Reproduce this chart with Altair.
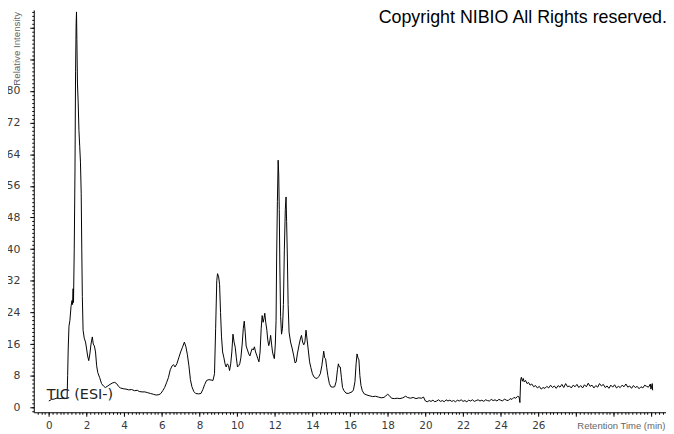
import altair as alt
import pandas as pd

# Retention time (min) and relative intensity
time_min = [
    0.0, 0.15, 0.3, 0.45, 0.55, 0.7, 0.85, 0.97,
    1.0, 1.03, 1.07, 1.12, 1.18, 1.23, 1.26, 1.29, 1.31, 1.35, 1.39, 1.42, 1.45, 1.47, 1.49,
    1.52, 1.56, 1.6, 1.64, 1.68, 1.72, 1.75, 1.78, 1.82, 1.88, 1.95, 2.0, 2.06, 2.12, 2.18,
    2.24, 2.31, 2.36, 2.42, 2.48, 2.54, 2.6, 2.7, 2.8, 2.9, 3.0, 3.1, 3.25, 3.4, 3.5, 3.6,
    3.7, 3.8, 3.95, 4.1, 4.25, 4.4, 4.55, 4.7, 4.8, 4.95, 5.1, 5.25, 5.4, 5.55, 5.7, 5.85,
    5.95, 6.05, 6.15, 6.25, 6.35, 6.45, 6.55, 6.62, 6.7, 6.8, 6.9, 7.0, 7.1, 7.2, 7.28, 7.36,
    7.44, 7.52, 7.6, 7.7, 7.8, 7.95, 8.08, 8.18, 8.28, 8.38, 8.5, 8.62, 8.72, 8.8, 8.86, 8.92,
    8.96, 9.02, 9.07, 9.12, 9.17, 9.23, 9.3, 9.36, 9.42, 9.48, 9.54, 9.6, 9.66, 9.72, 9.78,
    9.84, 9.9, 9.96, 10.02, 10.08, 10.14, 10.2, 10.27, 10.33, 10.38, 10.43, 10.48, 10.55,
    10.62, 10.68, 10.74, 10.8, 10.86, 10.92, 10.98, 11.04, 11.1, 11.16, 11.22, 11.28, 11.33,
    11.38, 11.43, 11.47, 11.52, 11.58, 11.63, 11.68, 11.73, 11.78, 11.83, 11.88, 11.94,
    11.98, 12.03, 12.07, 12.1, 12.14, 12.18, 12.21, 12.24, 12.27, 12.31, 12.36, 12.41,
    12.46, 12.51, 12.56, 12.6, 12.63, 12.67, 12.71, 12.76, 12.84, 12.92, 13.0, 13.08, 13.14,
    13.2, 13.28, 13.36, 13.42, 13.48, 13.54, 13.6, 13.66, 13.72, 13.78, 13.85, 13.92, 14.0,
    14.08, 14.16, 14.25, 14.34, 14.42, 14.5, 14.57, 14.6, 14.65, 14.7, 14.76, 14.82, 14.9,
    14.98, 15.08, 15.18, 15.26, 15.33, 15.38, 15.42, 15.48, 15.54, 15.6, 15.68, 15.78, 15.9,
    16.0, 16.1, 16.18, 16.26, 16.32, 16.37, 16.42, 16.47, 16.52, 16.58, 16.65, 16.75, 16.9,
    17.05, 17.2, 17.35, 17.5, 17.65, 17.8, 17.9, 18.0, 18.08, 18.2, 18.35, 18.5, 18.65, 18.8,
    18.95, 19.05, 19.2, 19.35, 19.5, 19.65, 19.8, 19.9, 20.0, 20.1, 20.2, 20.3, 20.4, 20.5,
    20.6, 20.7, 20.8, 20.9, 21.0, 21.1, 21.2, 21.3, 21.4, 21.5, 21.6, 21.7, 21.8, 21.9, 22.0,
    22.1, 22.2, 22.3, 22.4, 22.5, 22.6, 22.7, 22.8, 22.9, 23.0, 23.1, 23.2, 23.3, 23.4, 23.5,
    23.6, 23.7, 23.8, 23.9, 24.0, 24.1, 24.2, 24.3, 24.4, 24.5, 24.6, 24.7, 24.8, 24.9, 24.98,
    25.02, 25.06, 25.1, 25.15, 25.2, 25.25, 25.32, 25.4, 25.48, 25.56, 25.65, 25.75, 25.85,
    25.95, 26.05, 26.15, 26.25, 26.35, 26.45, 26.55, 26.65, 26.75, 26.85, 26.95, 27.05,
    27.15, 27.25, 27.35, 27.45, 27.55, 27.65, 27.75, 27.85, 27.95, 28.05, 28.15, 28.25,
    28.35, 28.45, 28.55, 28.65, 28.75, 28.85, 28.95, 29.05, 29.15, 29.25, 29.35, 29.45,
    29.55, 29.65, 29.75, 29.85, 29.95, 30.05, 30.15, 30.25, 30.35, 30.45, 30.55, 30.65,
    30.75, 30.85, 30.95, 31.05, 31.15, 31.25, 31.35, 31.45, 31.55, 31.65, 31.75, 31.85,
    31.95, 31.98, 32.05, 32.07,
]
intensity = [
    1.6, 2.0, 2.1, 2.4, 2.2, 2.3, 2.2, 2.3,
    8.0, 15.0, 20.5, 22.0, 25.5, 27.0, 26.0, 30.0, 26.5, 40.0, 60.0, 85.0, 97.0, 100.0, 93.0,
    82.0, 77.0, 70.0, 66.0, 62.0, 54.0, 40.0, 28.0, 19.5, 17.5, 16.5, 15.0, 13.0, 11.8, 13.5,
    16.0, 17.8, 16.0, 15.5, 14.0, 10.5, 8.8, 7.5, 6.0, 5.4, 5.0, 5.3, 5.8, 6.2, 6.3, 6.0,
    5.3, 4.9, 4.7, 4.6, 4.4, 4.5, 4.2, 4.3, 4.0, 3.9, 3.9, 3.7, 3.5, 3.3, 3.1, 3.2,
    3.5, 4.2, 5.0, 6.2, 7.5, 9.5, 10.5, 10.8, 10.2, 11.0, 12.5, 14.0, 15.2, 16.5, 15.3, 13.3,
    10.5, 7.0, 5.2, 4.0, 3.5, 3.4, 3.5, 4.5, 5.8, 6.8, 7.0, 6.9, 6.8, 8.5, 20.0, 32.0,
    33.8, 33.0, 31.0, 24.0, 18.0, 14.0, 12.5, 11.0, 10.2, 11.0, 10.6, 9.3, 11.0, 14.0, 18.5,
    16.5, 15.2, 12.5, 10.2, 10.5, 11.0, 12.5, 16.0, 20.0, 21.8, 19.0, 15.5, 14.5,
    13.5, 13.0, 14.0, 14.8, 14.5, 15.3, 14.0, 13.2, 12.3, 11.5, 14.0, 20.0, 23.2,
    21.5, 22.5, 23.8, 21.5, 19.5, 17.0, 15.6, 16.5, 18.2, 16.0, 14.0, 12.8,
    12.3, 16.0, 22.0, 38.0, 52.0, 62.5, 59.0, 50.0, 36.0, 23.0, 18.5, 20.0,
    26.0, 40.0, 50.0, 53.2, 47.0, 38.0, 26.0, 19.0, 16.5, 15.0, 13.2, 11.2, 11.5,
    13.5, 15.5, 17.3, 18.2, 16.5, 15.8, 16.5, 19.5, 17.0, 14.5, 11.5, 10.0, 8.5,
    7.7, 7.4, 7.3, 7.8, 8.5, 10.5, 13.0, 14.2, 12.5, 12.3, 10.0, 8.0, 6.0,
    5.2, 5.1, 5.2, 6.5, 9.5, 11.0, 10.3, 10.2, 7.5, 5.0, 4.2, 3.6, 3.5,
    3.7, 3.9, 4.4, 6.5, 11.0, 13.5, 12.5, 12.0, 8.0, 5.5, 4.2, 3.4, 3.1,
    2.9, 2.7, 2.8, 2.6, 2.4, 2.5, 2.9, 3.3, 3.0, 2.3, 2.2, 2.3, 2.2, 2.4,
    2.8, 2.5, 2.3, 2.5, 2.2, 2.4, 2.3, 2.6, 1.6, 1.4, 1.7, 1.5, 1.8, 1.4,
    1.6, 1.9, 1.5, 1.7, 1.4, 1.9, 1.6, 1.8, 1.5, 1.7, 1.4, 1.8, 1.6, 1.9, 1.5,
    1.7, 1.4, 1.8, 1.6, 1.9, 1.5, 1.7, 1.9, 1.6, 1.8, 1.5, 1.9, 1.7, 1.6, 2.0,
    1.7, 1.9, 1.6, 2.0, 1.8, 1.6, 2.1, 1.8, 1.7, 2.2, 2.0, 2.5, 2.3, 2.8, 2.6,
    1.2, 7.0, 7.6, 6.6, 7.3, 6.4, 6.8, 6.0, 6.3, 5.6, 5.9, 5.2, 5.5,
    4.9, 5.3, 4.6, 5.0, 4.8, 5.3, 4.9, 5.6, 5.0, 5.4, 4.8, 5.5,
    5.1, 5.8, 5.0, 6.0, 5.2, 5.4, 4.9, 5.6, 5.2, 5.8, 5.0, 5.5,
    4.9, 5.7, 5.2, 6.1, 5.3, 5.6, 4.9, 5.5, 5.1, 6.0, 5.4, 5.8,
    5.0, 5.4, 4.8, 5.6, 5.1, 5.7, 4.9, 5.3, 5.0, 5.6, 5.2, 5.9,
    5.1, 5.4, 4.8, 5.5, 5.0, 5.3, 4.7, 5.2, 4.9, 5.6, 5.3, 5.1,
    5.9, 4.6, 6.0, 4.3,
]

x_major = [0, 2, 4, 6, 8, 10, 12, 14, 16, 18, 20, 22, 24, 26, 28, 30, 32]
x_minor = [round(k * 0.2, 1) for k in range(-3, 164)]
y_major = [0, 8, 16, 24, 32, 40, 48, 56, 64, 72, 80, 88, 96]
y_minor = list(range(-1, 101))

df = pd.DataFrame({"t": time_min, "i": intensity})

X_DOMAIN = [-0.8, 32.78]
Y_DOMAIN = [-1.25, 100.5]
xscale = alt.Scale(domain=X_DOMAIN, nice=False, zero=False)
yscale = alt.Scale(domain=Y_DOMAIN, nice=False, zero=False)

line = alt.Chart(df).mark_line(color="black", strokeWidth=1, clip=True).encode(
    x=alt.X("t:Q", scale=xscale, axis=alt.Axis(
        orient="bottom", values=x_major, tickSize=4, labelPadding=4,
        labelFontSize=10.5,
        labelExpr="datum.value <= 26 ? datum.label : ''",
        title="Retention Time (min)", titleX=637, titleY=13,
        titleFontSize=9.6,
        titleAlign="right", titleBaseline="middle")),
    y=alt.Y("i:Q", scale=yscale, axis=alt.Axis(
        orient="left", values=y_major, tickSize=4, labelPadding=10,
        labelExpr="datum.value <= 80 ? datum.label : ''",
        title="Relative Intensity", titleAngle=270, titleX=-17, titleY=76,
        titleFontSize=9.8,
        titleAlign="left", titleBaseline="middle")),
)

minor = alt.Chart(df).mark_point(opacity=0).encode(
    x=alt.X("t:Q", scale=xscale, title="", axis=alt.Axis(
        orient="bottom", values=x_minor, tickSize=2, labels=False, domain=False)),
    y=alt.Y("i:Q", scale=yscale, title="", axis=alt.Axis(
        orient="left", values=y_minor, tickSize=2, labels=False, domain=False)),
)

copyright_txt = alt.Chart(pd.DataFrame({"s": ["Copyright NIBIO All Rights reserved."]})).mark_text(
    align="right", baseline="middle", font="Liberation Sans", fontSize=18, color="black"
).encode(text="s:N", x=alt.value(639), y=alt.value(8))

tic_txt = alt.Chart(pd.DataFrame({"s": ["TIC (ESI-)"]})).mark_text(
    align="left", baseline="middle", font="DejaVu Sans", fontSize=14.5, color="#222222"
).encode(text="s:N", x=alt.value(13), y=alt.value(389))

chart = alt.layer(line, minor, copyright_txt, tic_txt).resolve_axis(
    x="independent", y="independent"
).properties(
    width=638, height=406,
    autosize=alt.AutoSizeParams(type="none"),
    padding={"left": 26, "top": 0, "right": 0, "bottom": 20},
    background="white",
).configure_view(strokeOpacity=0).configure_axis(
    grid=False, domainColor="black", tickColor="black", domainWidth=1, tickWidth=1,
    labelColor="#3a3a3a", labelFont="DejaVu Sans", labelFontSize=11,
    titleFont="Liberation Sans", titleColor="#666666",
    titleFontWeight="normal",
)

chart.save("out.html", embed_options={"renderer": "svg", "actions": False})
